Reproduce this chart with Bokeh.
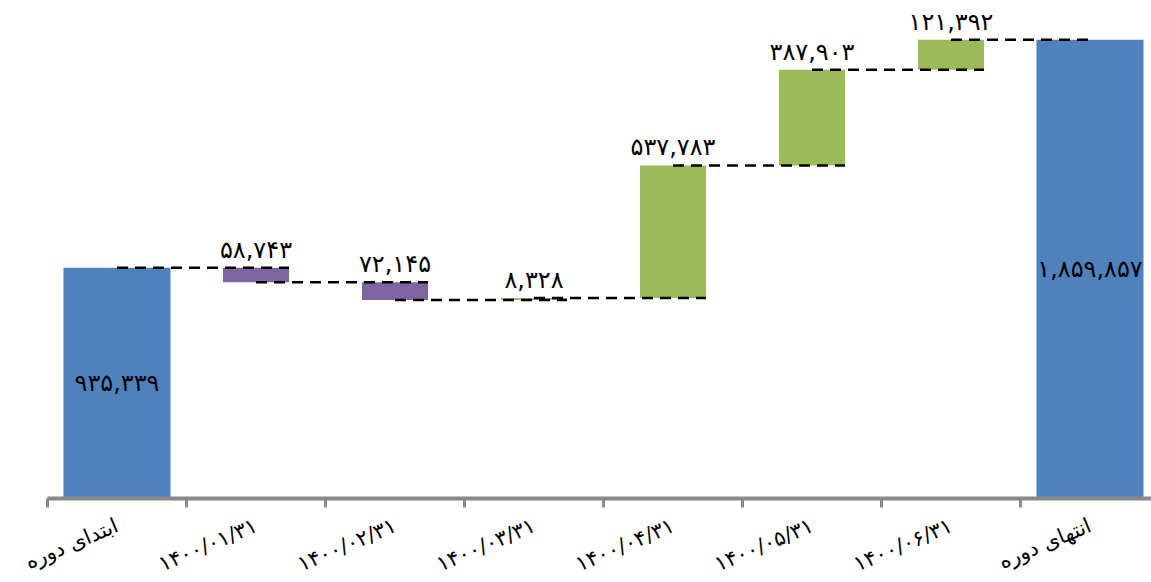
from bokeh.plotting import figure
from bokeh.models import Range1d, FixedTicker, ColumnDataSource
from bokeh.core.properties import value
from bokeh.embed import file_html
from bokeh.resources import INLINE

# ---- data ----
categories = ["ابتدای دوره", "۱۴۰۰/۰۱/۳۱", "۱۴۰۰/۰۲/۳۱", "۱۴۰۰/۰۳/۳۱",
              "۱۴۰۰/۰۴/۳۱", "۱۴۰۰/۰۵/۳۱", "۱۴۰۰/۰۶/۳۱", "انتهای دوره"]
start_value = 935339
changes = [-58743, -72145, 8328, 537783, 387903, 121392]
end_value = 1859857

# ---- styles ----
BLUE = "#4F81BD"
PURPLE = "#8064A2"
GREEN = "#9BBB59"
AXIS_GRAY = "#898989"
FONT = "DejaVu Sans"
END_W = 0.77
STEP_W = 0.475
W, H = 1151, 582
LEFT = 47              # pixel column of the first category boundary
BASE_PX = 498          # pixel row of the baseline
UNITS_PER_PX = 4055.0  # value units per pixel
PX_PER_CAT = 139.0

fa = str.maketrans("0123456789", "۰۱۲۳۴۵۶۷۸۹")
def fa_num(v):
    return "{:,}".format(abs(v)).translate(fa)

# build bars
xs, bottoms, tops, widths, colors = [], [], [], [], []
xs.append(0); bottoms.append(0); tops.append(start_value); widths.append(END_W); colors.append(BLUE)
level = start_value
levels = [level]
for i, c in enumerate(changes):
    new = level + c
    xs.append(i + 1)
    bottoms.append(min(level, new)); tops.append(max(level, new))
    widths.append(STEP_W)
    colors.append(GREEN if c >= 0 else PURPLE)
    level = new
    levels.append(level)
n = len(categories)
xs.append(n - 1); bottoms.append(0); tops.append(end_value); widths.append(END_W); colors.append(BLUE)

bars = ColumnDataSource(dict(x=xs, bottom=bottoms, top=tops, width=widths, color=colors))

# connectors
cx0, cx1, cy = [], [], []
for i, lv in enumerate(levels):
    nxt = i + 1
    cx0.append(i)
    cx1.append(nxt + (widths[nxt] / 2 if nxt < n - 1 else 0))
    cy.append(lv)
conn = ColumnDataSource(dict(x0=cx0, x1=cx1, y=cy))

# labels
step_lbl = ColumnDataSource(dict(x=list(range(1, n - 1)), y=tops[1:n - 1],
                                 t=[fa_num(c) for c in changes]))
end_lbl = ColumnDataSource(dict(x=[0, n - 1], y=[start_value / 2, end_value / 2],
                                t=[fa_num(start_value), fa_num(end_value)]))

x_start = -0.5 - LEFT / PX_PER_CAT
x_end = x_start + W / PX_PER_CAT
y_start = -(H - BASE_PX) * UNITS_PER_PX
y_end = BASE_PX * UNITS_PER_PX

p = figure(width=W, height=H, output_backend="svg", toolbar_location=None,
           x_range=Range1d(x_start, x_end), y_range=Range1d(y_start, y_end),
           min_border_left=0, min_border_right=0, min_border_top=0, min_border_bottom=0)
p.yaxis.visible = False
p.xgrid.visible = False
p.ygrid.visible = False
p.outline_line_color = None
p.background_fill_color = "white"
p.border_fill_color = "white"

p.vbar(x="x", bottom="bottom", top="top", width="width", fill_color="color",
       line_color=None, source=bars)
p.segment(x0="x0", x1="x1", y0="y", y1="y", line_color="black", line_width=2.5,
          line_dash="11 7", source=conn)
p.text(x="x", y="y", text="t", source=step_lbl, text_font=value(FONT),
       text_font_size="24px", text_align="center", text_baseline="bottom",
       y_offset=-4, text_color="black")
p.text(x="x", y="y", text="t", source=end_lbl, text_font=value(FONT),
       text_font_size="24px", text_align="center", text_baseline="middle",
       text_color="black")

ax = p.xaxis[0]
ax.fixed_location = 0
ax.bounds = (-0.5, x_end)
ax.ticker = FixedTicker(ticks=list(range(n)), minor_ticks=[i - 0.5 for i in range(n)])
ax.major_label_overrides = {i: c for i, c in enumerate(categories)}
ax.major_tick_out = 0
ax.major_tick_in = 0
ax.major_tick_line_color = None
ax.minor_tick_out = 9
ax.minor_tick_in = 0
ax.minor_tick_line_width = 3
ax.minor_tick_line_color = AXIS_GRAY
ax.axis_line_width = 4
ax.axis_line_color = AXIS_GRAY
ax.major_label_orientation = 0.4
ax.major_label_standoff = 17
ax.major_label_text_font = FONT
ax.major_label_text_font_size = "21px"
ax.major_label_text_color = "black"

open("out.html", "w").write(file_html(p, INLINE))
